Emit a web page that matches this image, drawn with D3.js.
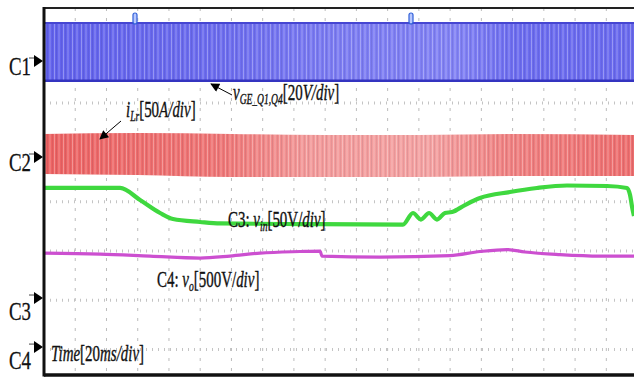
<!DOCTYPE html>
<html>
<head>
<meta charset="utf-8">
<script src="https://cdn.jsdelivr.net/npm/d3@7"></script>
<style>
    html, body { margin: 0; padding: 0; background: #fff; }
    svg { display: block; font-family: "Liberation Serif", "Times New Roman", serif; }
</style>
</head>
<body>
<svg id="scope" width="634" height="378"></svg>
<script>
// horizontal grid, ms (20 ms/div)
const gridTimes = [20, 40, 60, 80, 100, 120, 140, 160, 180, 200, 220, 240, 260, 280, 300, 320, 340, 360];
// vertical grid, divisions from the top
const gridDivs = [1, 2, 3, 4, 5, 6, 7];

// C1: gate voltage v_GE (V), PWM band envelope
const c1Time = [0, 380];
const c1High = [15.4, 15.4];
const c1Low = [-8, -8];

// C2: resonant current i_Lr (A), band envelope
const c2Time = [0, 60, 120, 180, 240, 300, 380];
const c2High = [23.3, 24.3, 23.3, 22.3, 22.3, 23.3, 22.3];
const c2Low = [-17.2, -18.3, -20.3, -20.3, -20.3, -19.3, -19.3];

// C3: input voltage v_in (V)
const c3Time = [0, 48.7, 61.5, 74.3, 82.6, 99.9, 112.7, 163.9, 229.8, 236.2, 241.3, 246.5, 251.6, 256.7,
    261.2, 269.5, 279.1, 298.3, 315.6, 334.8, 360.4, 373.2, 375.2, 376.5, 377.7];
const c3Volt = [111.6, 111.6, 99.4, 86.2, 80.1, 77.1, 75.6, 75, 74.5, 86.2, 79.6, 86.2, 79.6, 86.2,
    87.2, 94.3, 101.4, 107.5, 111.6, 114.1, 113.6, 111.6, 104.5, 92.3, 83.2];

// C4: output voltage v_o (V)
const c4Time = [0, 35.9, 67.9, 99.9, 119, 138.3, 163.9, 176.7, 178, 215.1, 259.9, 279.1, 296.4, 307.9, 330.3, 355.9, 378];
const c4Volt = [953, 943, 923, 903, 923, 953, 969, 974, 923, 913, 928, 969, 989, 964, 938, 923, 923];

const channels = [
    {name: "C1", ground: 1.148, perDiv: 20},
    {name: "C2", ground: 3.095, perDiv: 50},
    {name: "C3", ground: 5.955, perDiv: 50},
    {name: "C4", ground: 6.95, perDiv: 500}
];

const svg = d3.select("#scope");
const x = d3.scaleLinear().domain([0, 380]).range([44, 44 + 19 * 31.24]);
const yDiv = d3.scaleLinear().domain([0, 7.5]).range([4.4, 374.2]);
const frameTop = 8, frameBottom = 375, frameLeft = 44, frameRight = 634;

function yOf(ch, v) {
    return yDiv(ch.ground - v / ch.perDiv);
}

let defs = svg.append("defs");

defs.append("clipPath").attr("id", "plotClip")
    .append("rect").attr("x", frameLeft).attr("y", frameTop)
    .attr("width", frameRight - frameLeft).attr("height", frameBottom - frameTop);

// band colours
let bGrad = defs.append("linearGradient").attr("id", "blueGrad")
    .attr("gradientUnits", "userSpaceOnUse").attr("x1", frameLeft).attr("x2", frameRight).attr("y1", 0).attr("y2", 0);
[[0, "#6262ec"], [0.3, "#6c6cee"], [0.5, "#7c7cf2"], [0.7, "#8282f4"], [0.8, "#6c6cef"], [1, "#6a6aee"]]
    .forEach(s => bGrad.append("stop").attr("offset", s[0]).attr("stop-color", s[1]));

let rGrad = defs.append("linearGradient").attr("id", "redGrad")
    .attr("gradientUnits", "userSpaceOnUse").attr("x1", frameLeft).attr("x2", frameRight).attr("y1", 0).attr("y2", 0);
[[0, "#ec6262"], [0.3, "#ef7676"], [0.45, "#f39a9a"], [0.65, "#f4a2a2"], [0.78, "#f08282"], [1, "#ee6e6e"]]
    .forEach(s => rGrad.append("stop").attr("offset", s[0]).attr("stop-color", s[1]));

// PWM stripe texture
let stripes = defs.append("pattern").attr("id", "stripes")
    .attr("patternUnits", "userSpaceOnUse").attr("width", 9).attr("height", 20);
stripes.append("rect").attr("x", 0).attr("width", 1).attr("height", 20).attr("fill", "rgba(255,255,255,0.3)");
stripes.append("rect").attr("x", 2).attr("width", 1).attr("height", 20).attr("fill", "rgba(0,0,40,0.08)");
stripes.append("rect").attr("x", 4).attr("width", 2).attr("height", 20).attr("fill", "rgba(255,255,255,0.14)");
stripes.append("rect").attr("x", 7).attr("width", 1).attr("height", 20).attr("fill", "rgba(0,0,40,0.06)");

let arrowHead = defs.append("marker").attr("id", "arrowHead")
    .attr("viewBox", "0 0 10 10").attr("refX", 9).attr("refY", 5)
    .attr("markerWidth", 11).attr("markerHeight", 9).attr("markerUnits", "userSpaceOnUse")
    .attr("orient", "auto");
arrowHead.append("path").attr("d", "M0,0 L10,5 L0,10 Z").attr("fill", "#000");

let plot = svg.append("g").attr("clip-path", "url(#plotClip)");

// grid
plot.selectAll(".vgrid").data(gridTimes).enter().append("line")
    .attr("x1", d => x(d)).attr("x2", d => x(d))
    .attr("y1", frameTop).attr("y2", frameBottom)
    .attr("stroke", "#bcbcbc").attr("stroke-width", 1)
    .attr("stroke-dasharray", "3,7");

plot.selectAll(".hgrid").data(gridDivs).enter().append("line")
    .attr("x1", frameLeft).attr("x2", frameRight)
    .attr("y1", d => yDiv(d)).attr("y2", d => yDiv(d))
    .attr("stroke", "#c4c4c4").attr("stroke-width", 3)
    .attr("stroke-dasharray", "1,5");

// C1 band
let c1 = c1Time.map((t, i) => ({t: t, hi: c1High[i], lo: c1Low[i]}));
let area1 = d3.area().x(d => x(d.t))
    .y0(d => yOf(channels[0], d.lo)).y1(d => yOf(channels[0], d.hi));
plot.append("path").datum(c1).attr("d", area1).attr("fill", "url(#blueGrad)");
plot.append("path").datum(c1).attr("d", area1).attr("fill", "url(#stripes)");
plot.append("path").datum(c1)
    .attr("d", d3.line().x(d => x(d.t)).y(d => yOf(channels[0], d.hi)))
    .attr("stroke", "#4646d2").attr("stroke-width", 2).attr("fill", "none");
plot.append("path").datum(c1)
    .attr("d", d3.line().x(d => x(d.t)).y(d => yOf(channels[0], d.lo)))
    .attr("stroke", "#3434c0").attr("stroke-width", 2.5).attr("fill", "none");

// C2 band
let c2 = c2Time.map((t, i) => ({t: t, hi: c2High[i], lo: c2Low[i]}));
let area2 = d3.area().x(d => x(d.t)).curve(d3.curveMonotoneX)
    .y0(d => yOf(channels[1], d.lo)).y1(d => yOf(channels[1], d.hi));
plot.append("path").datum(c2).attr("d", area2).attr("fill", "url(#redGrad)");
plot.append("path").datum(c2).attr("d", area2).attr("fill", "url(#stripes)");

// C3 / C4 traces
let c4 = c4Time.map((t, i) => ({t: t, v: c4Volt[i]}));
plot.append("path").datum(c4)
    .attr("d", d3.line().x(d => x(d.t)).y(d => yOf(channels[3], d.v)).curve(d3.curveMonotoneX))
    .attr("stroke", "#cc4fd0").attr("stroke-width", 3.2).attr("fill", "none");

let c3 = c3Time.map((t, i) => ({t: t, v: c3Volt[i]}));
plot.append("path").datum(c3)
    .attr("d", d3.line().x(d => x(d.t)).y(d => yOf(channels[2], d.v)).curve(d3.curveMonotoneX))
    .attr("stroke", "#3fd83f").attr("stroke-width", 4.2).attr("fill", "none")
    .attr("stroke-linejoin", "round");

// trigger markers
[[135, 13], [411, 13]].forEach(function (m) {
    plot.append("rect").attr("x", m[0] - 2).attr("y", m[1]).attr("width", 4).attr("height", 11)
        .attr("rx", 2).attr("fill", "#b8c8ff").attr("stroke", "#2f5fd8").attr("stroke-width", 1.2);
});

// labels, squeezed horizontally like the screenshot
function label(px, py, parts) {
    let g = svg.append("g").attr("transform", "translate(" + px + "," + py + ") scale(0.68,1.05)");
    let text = g.append("text").attr("x", 0).attr("y", 0).attr("font-size", 22)
        .attr("fill", "#111").attr("stroke", "#111").attr("stroke-width", 0.35);
    parts.forEach(function (p) {
        let span = text.append("tspan").text(p.t);
        if (p.i) span.attr("font-style", "italic");
        if (p.sub) span.attr("font-size", 14).attr("dy", 4);
        if (p.up) span.attr("dy", -4);
    });
}

label(233, 100, [{t: "v", i: true}, {t: "GE_Q1,Q4", i: true, sub: true}, {t: "[20", up: true}, {t: "V/div", i: true}, {t: "]"}]);
label(126, 117, [{t: "i", i: true}, {t: "Lr", i: true, sub: true}, {t: "[50", up: true}, {t: "A/div", i: true}, {t: "]"}]);
label(228, 227, [{t: "C3: "}, {t: "v", i: true}, {t: "in", i: true, sub: true}, {t: "[50V/", up: true}, {t: "div", i: true}, {t: "]"}]);
label(157, 287, [{t: "C4: "}, {t: "v", i: true}, {t: "o", i: true, sub: true}, {t: "[500V/", up: true}, {t: "div", i: true}, {t: "]"}]);
label(51, 361, [{t: "Time", i: true}, {t: "[20"}, {t: "ms/div", i: true}, {t: "]"}]);

// annotation arrows
svg.append("line").attr("x1", 232).attr("y1", 95).attr("x2", 211).attr("y2", 84)
    .attr("stroke", "#000").attr("stroke-width", 1).attr("marker-end", "url(#arrowHead)");
svg.append("line").attr("x1", 121).attr("y1", 121).attr("x2", 100).attr("y2", 139)
    .attr("stroke", "#000").attr("stroke-width", 1).attr("marker-end", "url(#arrowHead)");

// channel ground markers
channels.forEach(function (ch) {
    let gy = yDiv(ch.ground);
    svg.append("path")
        .attr("d", "M" + (frameLeft - 10) + "," + (gy - 6) + " L" + (frameLeft - 1) + "," + gy +
            " L" + (frameLeft - 10) + "," + (gy + 6) + " Z")
        .attr("fill", "#000");
    svg.append("line").attr("x1", frameLeft - 15).attr("x2", frameLeft - 10)
        .attr("y1", gy - 3).attr("y2", gy - 3).attr("stroke", "#444").attr("stroke-width", 1);
    let below = ch.name === "C3" || ch.name === "C4";
    svg.append("text").attr("x", 9).attr("y", below ? gy + 22 : gy + 14)
        .attr("font-size", 26).attr("textLength", 22).attr("lengthAdjust", "spacingAndGlyphs")
        .attr("fill", "#111").attr("stroke", "#111").attr("stroke-width", 0.3).text(ch.name);
});

// frame
svg.append("line").attr("x1", frameLeft).attr("x2", frameRight).attr("y1", frameTop).attr("y2", frameTop)
    .attr("stroke", "#222").attr("stroke-width", 2);
svg.append("line").attr("x1", frameLeft).attr("x2", frameRight).attr("y1", frameBottom).attr("y2", frameBottom)
    .attr("stroke", "#111").attr("stroke-width", 3.5);
svg.append("line").attr("x1", frameLeft).attr("x2", frameLeft).attr("y1", frameTop - 1).attr("y2", frameBottom + 1.5)
    .attr("stroke", "#111").attr("stroke-width", 3);
</script>
</body>
</html>
